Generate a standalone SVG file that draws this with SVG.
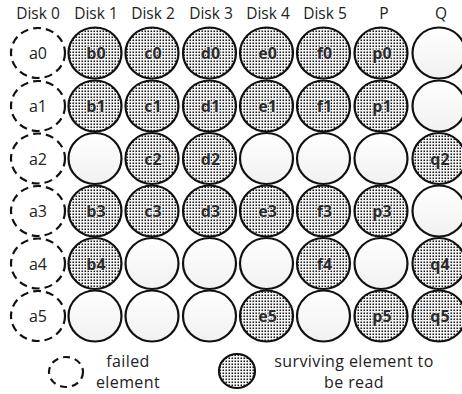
<svg xmlns="http://www.w3.org/2000/svg" width="462" height="394" viewBox="0 0 462 394">
<defs>
<pattern id="dots" width="3" height="3" patternUnits="userSpaceOnUse">
<rect width="3" height="3" fill="#f4f4f4"/>
<rect x="0.5" y="0.5" width="1.5" height="1.5" fill="#1a1a1a"/>
</pattern>
<linearGradient id="blank" x1="0" y1="0" x2="0" y2="1">
<stop offset="0" stop-color="#ffffff"/>
<stop offset="1" stop-color="#f1f1f1"/>
</linearGradient>
</defs>
<style>
.hd{font-family:"Open Sans","Liberation Sans",sans-serif;font-size:15.5px;fill:#222;text-anchor:middle}
.lb{font-family:"Open Sans","Liberation Sans",sans-serif;font-size:16px;fill:#222;text-anchor:middle}
.bl{font-family:"Open Sans","Liberation Sans",sans-serif;font-size:16px;font-weight:bold;fill:#2a2a2a;text-anchor:middle;stroke:#fff;stroke-width:1.6;stroke-opacity:0.7;paint-order:stroke}
.fail{fill:#fff;stroke:#111;stroke-width:2.2;stroke-dasharray:8 5}
.full{fill:url(#dots);stroke:#111;stroke-width:2.2}
.empty{fill:url(#blank);stroke:#111;stroke-width:2.2}
.lg{font-family:"Open Sans","Liberation Sans",sans-serif;font-size:16px;letter-spacing:0.4px;fill:#222;text-anchor:middle}
</style>
<g id="headers">
<text class="hd" x="38" y="19">Disk 0</text>
<text class="hd" x="96" y="19">Disk 1</text>
<text class="hd" x="153" y="19">Disk 2</text>
<text class="hd" x="211" y="19">Disk 3</text>
<text class="hd" x="268" y="19">Disk 4</text>
<text class="hd" x="325" y="19">Disk 5</text>
<text class="hd" x="384" y="19">P</text>
<text class="hd" x="441" y="19">Q</text>
</g>
<g id="connectors"></g>
<!-- Row 0 -->
<g id="a0"><ellipse class="fail" cx="38" cy="53" rx="27" ry="25"/><text class="lb" x="38" y="59">a0</text></g>
<g id="b0"><ellipse class="full" cx="95" cy="53" rx="26.5" ry="25.5"/><text class="bl" x="96" y="59">b0</text></g>
<g id="c0"><ellipse class="full" cx="152" cy="53" rx="26.5" ry="25.5"/><text class="bl" x="153" y="59">c0</text></g>
<g id="d0"><ellipse class="full" cx="209.5" cy="53" rx="26.5" ry="25.5"/><text class="bl" x="210.5" y="59">d0</text></g>
<g id="e0"><ellipse class="full" cx="266.5" cy="53" rx="26.5" ry="25.5"/><text class="bl" x="267.5" y="59">e0</text></g>
<g id="f0"><ellipse class="full" cx="323.5" cy="53" rx="26.5" ry="25.5"/><text class="bl" x="324.5" y="59">f0</text></g>
<g id="p0"><ellipse class="full" cx="381" cy="53" rx="26.5" ry="25.5"/><text class="bl" x="382" y="59">p0</text></g>
<g id="q0"><ellipse class="empty" cx="439" cy="53" rx="26.5" ry="25.5"/></g>
<!-- Row 1 -->
<g id="a1"><ellipse class="fail" cx="38" cy="106" rx="27" ry="25"/><text class="lb" x="38" y="112">a1</text></g>
<g id="b1"><ellipse class="full" cx="95" cy="106" rx="26.5" ry="25.5"/><text class="bl" x="96" y="112">b1</text></g>
<g id="c1"><ellipse class="full" cx="152" cy="106" rx="26.5" ry="25.5"/><text class="bl" x="153" y="112">c1</text></g>
<g id="d1"><ellipse class="full" cx="209.5" cy="106" rx="26.5" ry="25.5"/><text class="bl" x="210.5" y="112">d1</text></g>
<g id="e1"><ellipse class="full" cx="266.5" cy="106" rx="26.5" ry="25.5"/><text class="bl" x="267.5" y="112">e1</text></g>
<g id="f1"><ellipse class="full" cx="323.5" cy="106" rx="26.5" ry="25.5"/><text class="bl" x="324.5" y="112">f1</text></g>
<g id="p1"><ellipse class="full" cx="381" cy="106" rx="26.5" ry="25.5"/><text class="bl" x="382" y="112">p1</text></g>
<g id="q1"><ellipse class="empty" cx="439" cy="106" rx="26.5" ry="25.5"/></g>
<!-- Row 2 -->
<g id="a2"><ellipse class="fail" cx="38" cy="158.5" rx="27" ry="25"/><text class="lb" x="38" y="164.5">a2</text></g>
<g id="b2"><ellipse class="empty" cx="95" cy="158.5" rx="26.5" ry="25.5"/></g>
<g id="c2"><ellipse class="full" cx="152" cy="158.5" rx="26.5" ry="25.5"/><text class="bl" x="153" y="164.5">c2</text></g>
<g id="d2"><ellipse class="full" cx="209.5" cy="158.5" rx="26.5" ry="25.5"/><text class="bl" x="210.5" y="164.5">d2</text></g>
<g id="e2"><ellipse class="empty" cx="266.5" cy="158.5" rx="26.5" ry="25.5"/></g>
<g id="f2"><ellipse class="empty" cx="323.5" cy="158.5" rx="26.5" ry="25.5"/></g>
<g id="p2"><ellipse class="empty" cx="381" cy="158.5" rx="26.5" ry="25.5"/></g>
<g id="q2"><ellipse class="full" cx="439" cy="158.5" rx="26.5" ry="25.5"/><text class="bl" x="440" y="164.5">q2</text></g>
<!-- Row 3 -->
<g id="a3"><ellipse class="fail" cx="38" cy="211" rx="27" ry="25"/><text class="lb" x="38" y="217">a3</text></g>
<g id="b3"><ellipse class="full" cx="95" cy="211" rx="26.5" ry="25.5"/><text class="bl" x="96" y="217">b3</text></g>
<g id="c3"><ellipse class="full" cx="152" cy="211" rx="26.5" ry="25.5"/><text class="bl" x="153" y="217">c3</text></g>
<g id="d3"><ellipse class="full" cx="209.5" cy="211" rx="26.5" ry="25.5"/><text class="bl" x="210.5" y="217">d3</text></g>
<g id="e3"><ellipse class="full" cx="266.5" cy="211" rx="26.5" ry="25.5"/><text class="bl" x="267.5" y="217">e3</text></g>
<g id="f3"><ellipse class="full" cx="323.5" cy="211" rx="26.5" ry="25.5"/><text class="bl" x="324.5" y="217">f3</text></g>
<g id="p3"><ellipse class="full" cx="381" cy="211" rx="26.5" ry="25.5"/><text class="bl" x="382" y="217">p3</text></g>
<g id="q3"><ellipse class="empty" cx="439" cy="211" rx="26.5" ry="25.5"/></g>
<!-- Row 4 -->
<g id="a4"><ellipse class="fail" cx="38" cy="263.5" rx="27" ry="25"/><text class="lb" x="38" y="269.5">a4</text></g>
<g id="b4"><ellipse class="full" cx="95" cy="263.5" rx="26.5" ry="25.5"/><text class="bl" x="96" y="269.5">b4</text></g>
<g id="c4"><ellipse class="empty" cx="152" cy="263.5" rx="26.5" ry="25.5"/></g>
<g id="d4"><ellipse class="empty" cx="209.5" cy="263.5" rx="26.5" ry="25.5"/></g>
<g id="e4"><ellipse class="empty" cx="266.5" cy="263.5" rx="26.5" ry="25.5"/></g>
<g id="f4"><ellipse class="full" cx="323.5" cy="263.5" rx="26.5" ry="25.5"/><text class="bl" x="324.5" y="269.5">f4</text></g>
<g id="p4"><ellipse class="empty" cx="381" cy="263.5" rx="26.5" ry="25.5"/></g>
<g id="q4"><ellipse class="full" cx="439" cy="263.5" rx="26.5" ry="25.5"/><text class="bl" x="440" y="269.5">q4</text></g>
<!-- Row 5 -->
<g id="a5"><ellipse class="fail" cx="38" cy="316" rx="27" ry="25"/><text class="lb" x="38" y="322">a5</text></g>
<g id="b5"><ellipse class="empty" cx="95" cy="316" rx="26.5" ry="25.5"/></g>
<g id="c5"><ellipse class="empty" cx="152" cy="316" rx="26.5" ry="25.5"/></g>
<g id="d5"><ellipse class="empty" cx="209.5" cy="316" rx="26.5" ry="25.5"/></g>
<g id="e5"><ellipse class="full" cx="266.5" cy="316" rx="26.5" ry="25.5"/><text class="bl" x="267.5" y="322">e5</text></g>
<g id="f5"><ellipse class="empty" cx="323.5" cy="316" rx="26.5" ry="25.5"/></g>
<g id="p5"><ellipse class="full" cx="381" cy="316" rx="26.5" ry="25.5"/><text class="bl" x="382" y="322">p5</text></g>
<g id="q5"><ellipse class="full" cx="439" cy="316" rx="26.5" ry="25.5"/><text class="bl" x="440" y="322">q5</text></g>
<!-- Legend -->
<g id="legend-failed">
<ellipse class="fail" cx="66" cy="372" rx="17" ry="15" style="stroke-dasharray:7 5"/>
<text class="lg" x="128" y="367">failed</text>
<text class="lg" x="128" y="388">element</text>
</g>
<g id="legend-surviving">
<ellipse class="full" cx="237" cy="371" rx="18" ry="17"/>
<text class="lg" x="354" y="367">surviving element to</text>
<text class="lg" x="354" y="388">be read</text>
</g>
</svg>
